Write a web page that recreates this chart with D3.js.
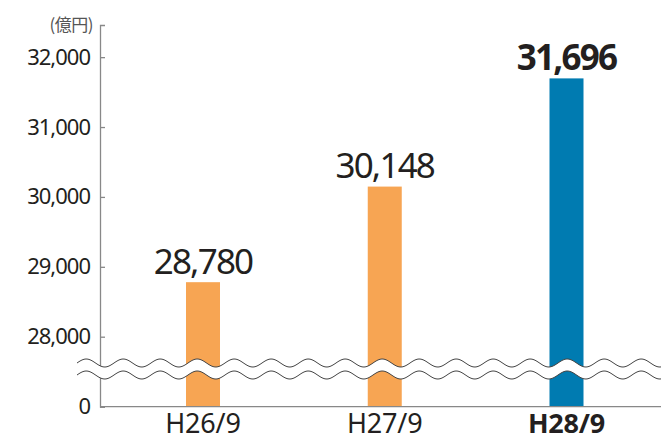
<!DOCTYPE html>
<html>
<head>
<meta charset="utf-8">
<script src="https://cdn.jsdelivr.net/npm/d3@7"></script>
<style>
  body { margin: 0; background: #fff; }
  text { font-family: "Noto Sans", sans-serif; fill: #231f20; }
</style>
</head>
<body>
<svg id="chart" width="661" height="441"></svg>
<script>
var categories = ["H26/9", "H27/9", "H28/9"];
var values = [28780, 30148, 31696];
var tickValues = [0, 28000, 29000, 30000, 31000, 32000];
var unitLabel = "(億円)";

var svg = d3.select("#chart");

// broken axis: 0 at the bottom, then 28,000 and up
var y = d3.scaleLinear()
  .domain([0, 28000, 32460])
  .range([406.7, 336.7, 25]);

var x = d3.scalePoint()
  .domain(categories)
  .range([203, 566.5]);

var barW = 34;

var bars = svg.append("g");
bars.selectAll("rect")
  .data(values)
  .enter()
  .append("rect")
  .attr("x", function(d, i) { return x(categories[i]) - barW / 2; })
  .attr("y", function(d) { return y(d); })
  .attr("width", barW)
  .attr("height", function(d) { return y(0) - y(d); })
  .attr("fill", function(d, i) { return i == 2 ? "#007bb1" : "#f7a553"; });

// value labels
svg.append("g").selectAll("text")
  .data(values)
  .enter()
  .append("text")
  .attr("x", function(d, i) { return x(categories[i]); })
  .attr("y", function(d) { return y(d) - 8.5; })
  .attr("text-anchor", "middle")
  .style("font-size", "35px")
  .style("letter-spacing", "-1.8px")
  .style("font-weight", function(d, i) { return i == 2 ? "bold" : "normal"; })
  .text(function(d) { return d3.format(",")(d); });

// y axis
var yAxis = d3.axisLeft(y)
  .tickValues(tickValues)
  .tickFormat(d3.format(","))
  .tickSizeInner(-5)
  .tickSizeOuter(-5)
  .tickPadding(10);

var ag = svg.append("g").attr("transform", "translate(100,0)").call(yAxis);
ag.select(".domain").attr("stroke", "#888").attr("stroke-width", 1.3);
ag.selectAll(".tick line").attr("stroke", "#888").attr("stroke-width", 1.3);
ag.selectAll(".tick text")
  .attr("fill", "#231f20")
  .style("font-size", "22px")
  .style("letter-spacing", "-1px")
  .style("font-family", "'Noto Sans', sans-serif");

svg.append("text")
  .attr("x", 93)
  .attr("y", 31)
  .attr("text-anchor", "end")
  .style("font-size", "17px")
  .style("font-family", "'Noto Sans CJK JP', 'Noto Sans', sans-serif")
  .style("letter-spacing", "-0.5px")
  .style("fill", "#555")
  .text(unitLabel);

// baseline
svg.append("line")
  .attr("x1", 100).attr("x2", 661)
  .attr("y1", y(0)).attr("y2", y(0))
  .attr("stroke", "#888").attr("stroke-width", 1.3);

// break waves
var period = 37, amp = 4;
var x0 = 77, x1 = 661;
var upper = 363, lower = 375;
function wave(yc) {
  var pts = d3.range(x0, x1 + 1, 1).map(function(px) {
    return [px, yc + amp * Math.sin((px - x0) / period * 2 * Math.PI + Math.PI)];
  });
  return pts;
}
var up = wave(upper), lo = wave(lower);
svg.append("path")
  .attr("d", d3.line()(up.concat(lo.slice().reverse())) + "Z")
  .attr("fill", "#fff");
svg.append("path").attr("d", d3.line()(up)).attr("fill", "none").attr("stroke", "#444").attr("stroke-width", 1);
svg.append("path").attr("d", d3.line()(lo)).attr("fill", "none").attr("stroke", "#444").attr("stroke-width", 1);

// x labels
svg.append("g").selectAll("text")
  .data(categories)
  .enter()
  .append("text")
  .attr("x", function(d) { return x(d); })
  .attr("y", 433)
  .attr("text-anchor", "middle")
  .style("font-size", "27px")
  .style("letter-spacing", "-0.2px")
  .style("font-weight", function(d, i) { return i == 2 ? "bold" : "normal"; })
  .text(function(d) { return d; });
</script>
</body>
</html>
